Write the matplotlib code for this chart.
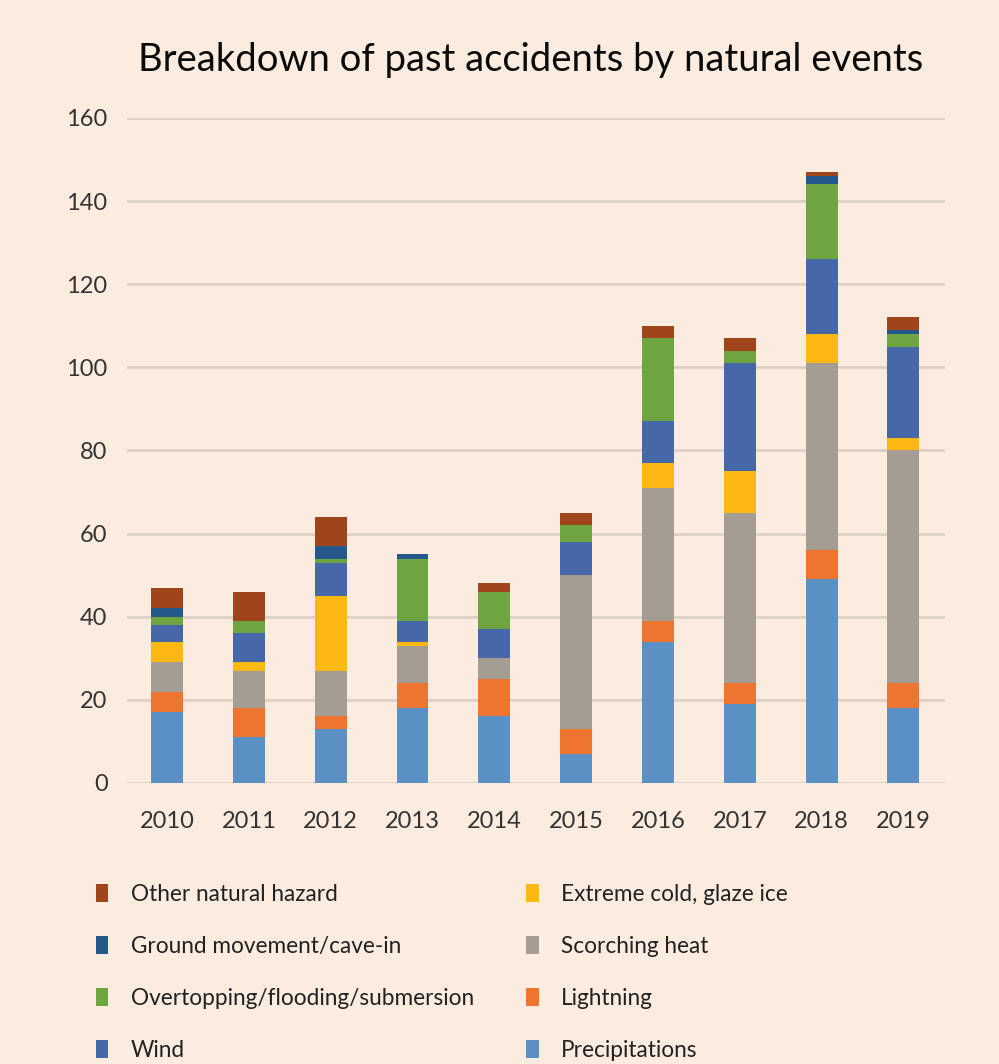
import numpy as np
import matplotlib.pyplot as plt
from matplotlib.patches import Patch

# Values
years = ['2010', '2011', '2012', '2013', '2014', '2015', '2016', '2017', '2018', '2019']
precipitations = [17, 11, 13, 18, 16, 7, 34, 19, 49, 18]
lightning = [5, 7, 3, 6, 9, 6, 5, 5, 7, 6]
scorching_heat = [7, 9, 11, 9, 5, 37, 32, 41, 45, 56]
extreme_cold = [5, 2, 18, 1, 0, 0, 6, 10, 7, 3]
wind = [4, 7, 8, 5, 7, 8, 10, 26, 18, 22]
flooding = [2, 3, 1, 15, 9, 4, 20, 3, 18, 3]
ground_movement = [2, 0, 3, 1, 0, 0, 0, 0, 2, 1]
other_hazard = [5, 7, 7, 0, 2, 3, 3, 3, 1, 3]

series = [
    ('Precipitations', precipitations, '#5b90c4'),
    ('Lightning', lightning, '#ed7530'),
    ('Scorching heat', scorching_heat, '#a59c94'),
    ('Extreme cold, glaze ice', extreme_cold, '#fdb813'),
    ('Wind', wind, '#4668a8'),
    ('Overtopping/flooding/submersion', flooding, '#6fa540'),
    ('Ground movement/cave-in', ground_movement, '#24588a'),
    ('Other natural hazard', other_hazard, '#a0441c'),
]

bg = '#fcebdf'
plt.rcParams['font.family'] = ['Lato', 'DejaVu Sans']

fig = plt.figure(figsize=(9.99, 10.64), dpi=100, facecolor=bg)
ax = fig.add_axes([0.1271, 0.2641, 0.819, 0.625])
ax.set_facecolor(bg)

x = np.arange(len(years))
bottom = np.zeros(len(years))
handles = []
for name, vals, color in series:
    ax.bar(x, vals, 0.39, bottom=bottom, color=color, zorder=3)
    bottom += np.array(vals)
    handles.append(Patch(facecolor=color, label=name))

ax.set_xlim(-0.49, 9.51)
ax.set_ylim(0, 160)
ax.set_yticks(range(0, 161, 20))
ax.set_xticks(x)
ax.set_xticklabels(years)
ax.grid(axis='y', color='#dccfc4', linewidth=2, zorder=0)
for s in ax.spines.values():
    s.set_visible(False)
ax.tick_params(length=0, labelsize=17, colors='#333333')
ax.tick_params(axis='y', pad=14)
ax.tick_params(axis='x', pad=20)

fig.text(0.531, 0.944, 'Breakdown of past accidents by natural events',
         ha='center', va='center', fontsize=27.5, color='#0a0a0a')

# legend: column-major order, top-of-stack first
leg = fig.legend(handles=handles[::-1], ncol=2, loc='upper left',
                 bbox_to_anchor=(0.096, 0.169), frameon=False,
                 borderpad=0, borderaxespad=0,
                 fontsize=16.3, handlelength=0.55, handleheight=0.85,
                 handletextpad=1.0, labelspacing=1.36, columnspacing=2.3)
for t in leg.get_texts():
    t.set_color('#222222')

fig.savefig('out.png', dpi=100, facecolor=bg)
